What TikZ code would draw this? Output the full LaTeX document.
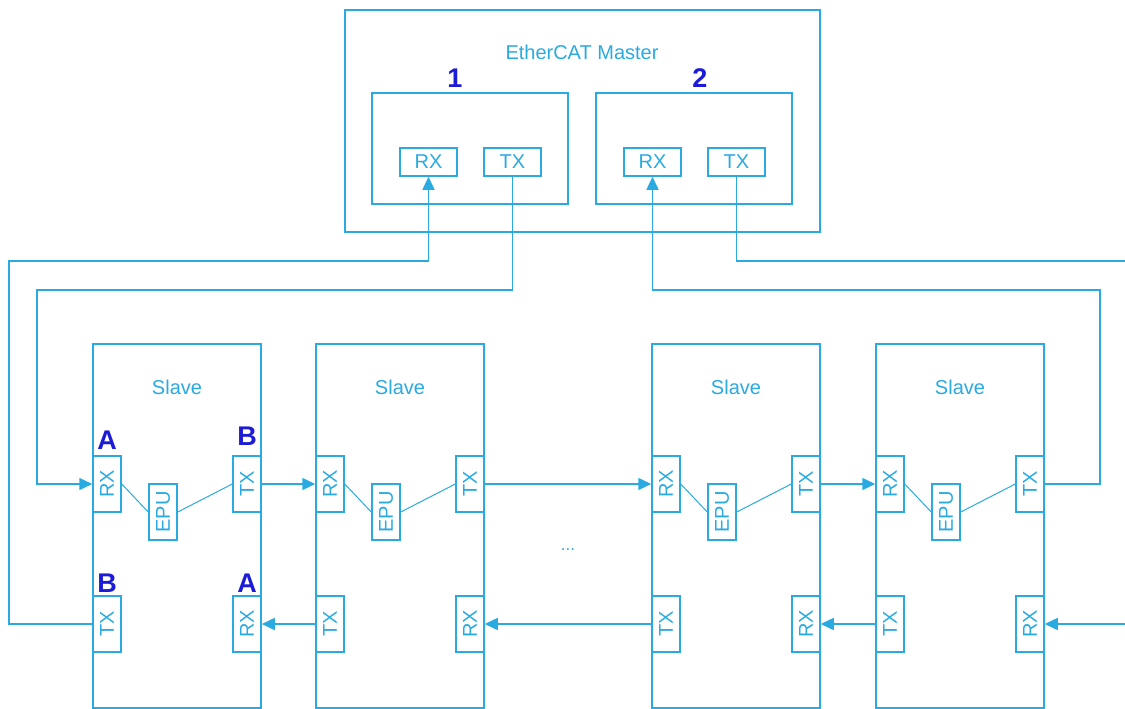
\documentclass[tikz,border=0pt]{standalone}
\usepackage{fontspec}
\setmainfont{Liberation Sans}
\usepackage{graphicx}
\usetikzlibrary{arrows.meta}
\definecolor{ecatblue}{RGB}{41,170,225}
\definecolor{penblue}{RGB}{28,28,215}
\tikzset{
  box/.style={draw=ecatblue,line width=1.5pt,inner sep=0pt},
  lbl/.style={text=ecatblue,font=\fontsize{20}{20}\selectfont},
  hport/.style={box,lbl,minimum width=57pt,minimum height=28pt},
  vport/.style={box,lbl,minimum width=28pt,minimum height=56pt},
  pen/.style={text=penblue,font=\fontsize{27}{27}\selectfont\bfseries},
  link/.style={draw=ecatblue,line width=1.5pt},
  flow/.style={link,-{Triangle[length=13pt,width=12pt]}}
}
\begin{document}
\begin{tikzpicture}[x=1pt,y=-1pt]
\useasboundingbox (0,0) rectangle (1125,709);
% master
\node[box,minimum width=475pt,minimum height=222pt] (master) at (582.5,121) {};
\node[lbl] (mtitle) at (582,52) {EtherCAT Master};
\node[box,minimum width=196pt,minimum height=111pt] (port1) at (470,148.5) {};
\node[box,minimum width=196pt,minimum height=111pt] (port2) at (694,148.5) {};
\node[hport] (rx1) at (428.5,162) {RX};
\node[hport] (tx1) at (512.5,162) {TX};
\node[hport] (rx2) at (652.5,162) {RX};
\node[hport] (tx2) at (736.5,162) {TX};
\node[pen] (num1) at (455,78) {1};
\node[pen] (num2) at (700,78) {2};
% slaves
\foreach \i/\L in {1/93,2/316,3/652,4/876}{
  \node[box,minimum width=168pt,minimum height=364pt] (s\i) at (\L+84,526) {};
  \node[lbl] (s\i-title) at (\L+84,387) {Slave};
  \node[vport] (s\i-rxa) at (\L+14,484) {\rotatebox{90}{RX}};
  \node[vport] (s\i-txa) at (\L+154,484) {\rotatebox{90}{TX}};
  \node[vport] (s\i-epu) at (\L+70,512) {\rotatebox{90}{EPU}};
  \node[vport] (s\i-txb) at (\L+14,624) {\rotatebox{90}{TX}};
  \node[vport] (s\i-rxb) at (\L+154,624) {\rotatebox{90}{RX}};
  \draw[link,line width=1pt] (s\i-rxa.east) -- (s\i-epu.west);
  \draw[link,line width=1pt] (s\i-epu.east) -- (s\i-txa.west);
}
\node[pen] (pa1) at (107,440) {A};
\node[pen] (pb1) at (247,436) {B};
\node[pen] (pb2) at (107,583) {B};
\node[pen] (pa2) at (247,583) {A};
\node[text=ecatblue,font=\fontsize{17}{17}\selectfont] (dots) at (568,550) {...};
% chain between slaves
\draw[flow] (s1-txa.east) -- (s2-rxa.west);
\draw[flow] (s2-txa.east) -- (s3-rxa.west);
\draw[flow] (s3-txa.east) -- (s4-rxa.west);
\draw[flow] (s2-txb.west) -- (s1-rxb.east);
\draw[flow] (s3-txb.west) -- (s2-rxb.east);
\draw[flow] (s4-txb.west) -- (s3-rxb.east);
% master links
\coordinate (lout) at (37,290);
\coordinate (lin) at (9,261);
\coordinate (rin) at (1100,290);
\coordinate (rout) at (1125,261);
\coordinate (rret) at (1125,624);
\draw[flow] (tx1.south) |- (lout) |- (s1-rxa.west);
\draw[flow] (s1-txb.west) -| (lin) -| (rx1.south);
\draw[flow] (s4-txa.east) -| (rin) -| (rx2.south);
\draw[link] (tx2.south) |- (rout);
\draw[flow] (rret) -- (s4-rxb.east);
\end{tikzpicture}
\end{document}
